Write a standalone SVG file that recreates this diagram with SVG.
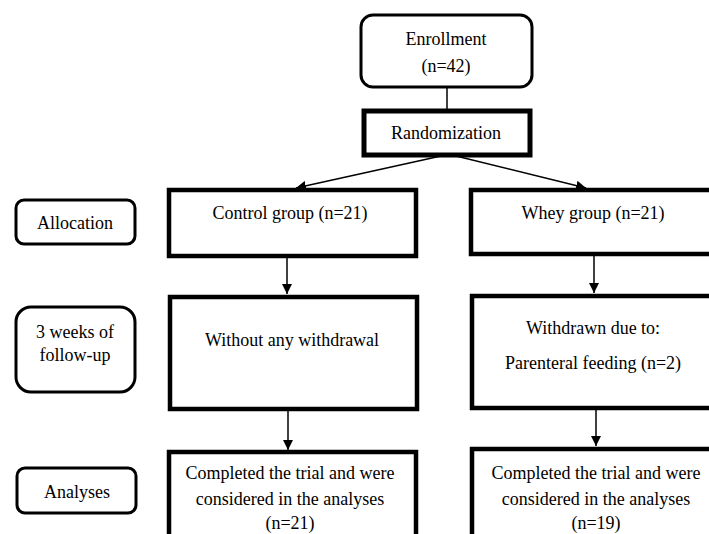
<svg xmlns="http://www.w3.org/2000/svg" width="709" height="534" viewBox="0 0 709 534">
<style>
text{font-family:"Liberation Serif","Times New Roman",serif;font-size:18px;fill:#000;text-anchor:middle}
.rr{fill:#fff;stroke:#000;stroke-width:3}
.bx{fill:#fff;stroke:#000;stroke-width:4.5}
.ln{stroke:#000;stroke-width:1.5;fill:none}
</style>
<defs>
<marker id="ah" viewBox="0 0 10 10" refX="10" refY="5" markerWidth="10" markerHeight="10" markerUnits="userSpaceOnUse" orient="auto">
<path d="M0,0 L10,5 L0,10 z" fill="#000"/>
</marker>
</defs>
<rect width="709" height="534" fill="#fff"/>
<g id="connectors">
<line class="ln" x1="447" y1="87" x2="447" y2="111"/>
<line class="ln" x1="441" y1="156" x2="296" y2="188" marker-end="url(#ah)"/>
<line class="ln" x1="456" y1="156" x2="586" y2="188" marker-end="url(#ah)"/>
<line class="ln" x1="287" y1="257" x2="287" y2="294" marker-end="url(#ah)"/>
<line class="ln" x1="594" y1="256" x2="594" y2="293" marker-end="url(#ah)"/>
<line class="ln" x1="288" y1="410" x2="288" y2="450" marker-end="url(#ah)"/>
<line class="ln" x1="596" y1="410" x2="596" y2="446" marker-end="url(#ah)"/>
</g>
<g id="enrollment">
<rect class="rr" x="361" y="15" width="171" height="72" rx="12"/>
<text x="446" y="45">Enrollment</text>
<text x="446" y="72">(n=42)</text>
</g>
<g id="randomization">
<rect class="bx" x="364" y="111" width="166" height="44" style="stroke-width:5"/>
<text x="446" y="139">Randomization</text>
</g>
<g id="allocation">
<rect class="rr" x="16" y="200" width="119" height="44" rx="8"/>
<text x="75" y="229">Allocation</text>
</g>
<g id="followup">
<rect class="rr" x="16" y="307" width="119" height="85" rx="15"/>
<text x="75" y="338">3 weeks of</text>
<text x="75" y="361">follow-up</text>
</g>
<g id="analyses">
<rect class="rr" x="17" y="468" width="119" height="45" rx="8"/>
<text x="77" y="498">Analyses</text>
</g>
<g id="control">
<rect class="bx" x="169" y="190" width="247" height="66"/>
<text x="290" y="219">Control group (n=21)</text>
</g>
<g id="whey">
<rect class="bx" x="471" y="190" width="250" height="64"/>
<text x="593" y="219">Whey group (n=21)</text>
</g>
<g id="control-followup">
<rect class="bx" x="170" y="297" width="247" height="112"/>
<text x="292" y="346">Without any withdrawal</text>
</g>
<g id="whey-followup">
<rect class="bx" x="472" y="296" width="250" height="112"/>
<text x="593" y="334">Withdrawn due to:</text>
<text x="593" y="369">Parenteral feeding (n=2)</text>
</g>
<g id="control-analyses">
<rect class="bx" x="169" y="452" width="247" height="100"/>
<text x="290" y="479">Completed the trial and were</text>
<text x="290" y="505">considered in the analyses</text>
<text x="290" y="529">(n=21)</text>
</g>
<g id="whey-analyses">
<rect class="bx" x="472" y="449" width="250" height="100"/>
<text x="596" y="479">Completed the trial and were</text>
<text x="596" y="505">considered in the analyses</text>
<text x="596" y="529">(n=19)</text>
</g>
</svg>
